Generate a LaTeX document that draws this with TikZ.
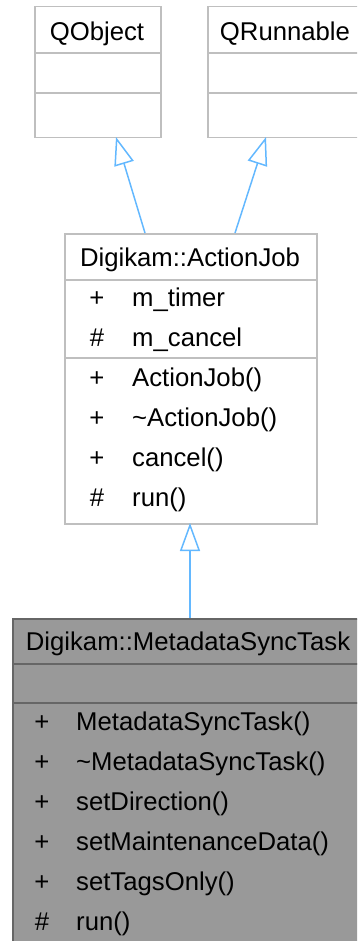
\documentclass[tikz,border=0pt]{standalone}
\usepackage{fontspec}
\setmainfont{Liberation Sans}
\usetikzlibrary{arrows.meta}
\definecolor{lgray}{HTML}{BFBFBF}
\definecolor{dgray}{HTML}{666666}
\definecolor{dfill}{HTML}{999999}
\definecolor{ablue}{HTML}{63B8FF}
\tikzset{
  lightbox/.style={draw=lgray, line width=1.5pt, fill=white, rectangle, inner sep=0pt, anchor=north west},
  darkbox/.style={draw=dgray, line width=1.5pt, fill=dfill, rectangle, inner sep=0pt, anchor=north west},
  lightline/.style={draw=lgray, line width=1.5pt},
  darkline/.style={draw=dgray, line width=1.5pt},
  txt/.style={inner sep=0pt, font=\fontsize{25.7}{30}\selectfont, text=black},
  inh/.style={draw=ablue, line width=1.5pt, -{Triangle[open, length=28pt, width=20pt]}}
}
\begin{document}
\begin{tikzpicture}[x=1pt,y=-1pt]
\useasboundingbox (0,0) rectangle (357,941);
\clip (0,0) rectangle (357,941);
% QObject
\node[lightbox, minimum width=126pt, minimum height=131pt] (qobj) at (34,6) {};
\draw[lightline] (34,53) -- (160,53);
\draw[lightline] (34,93) -- (160,93);
\node[txt, anchor=base] (qobjt) at (97,40.7) {QObject};
% QRunnable
\node[lightbox, minimum width=156pt, minimum height=131pt] (qrun) at (207,6) {};
\draw[lightline] (207,53) -- (363,53);
\draw[lightline] (207,93) -- (363,93);
\node[txt, anchor=base] (qrunt) at (285,40.7) {QRunnable};
% ActionJob
\node[lightbox, minimum width=252pt, minimum height=290pt] (aj) at (64,233) {};
\draw[lightline] (64,280) -- (316,280);
\draw[lightline] (64,358) -- (316,358);
\node[txt, anchor=base] (ajt) at (190,266) {Digikam::ActionJob};
\foreach \s/\t/\y [count=\i] in {+/m\_timer/306, \#/m\_cancel/346, +/ActionJob()/386, +/\textasciitilde ActionJob()/426, +/cancel()/466, \#/run()/506}{
  \node[txt, anchor=base] (ajs\i) at (97,\y) {\s};
  \node[txt, anchor=base west] (ajm\i) at (132,\y) {\t};
}
% MetadataSyncTask
\node[darkbox, minimum width=356pt, minimum height=340pt] (mst) at (12,618) {};
\draw[darkline] (12,664) -- (368,664);
\draw[darkline] (12,703) -- (368,703);
\node[txt, anchor=base] (mstt) at (188,650) {Digikam::MetadataSyncTask};
\foreach \s/\t/\y [count=\i] in {+/MetadataSyncTask()/730.5, +/\textasciitilde MetadataSyncTask()/770.5, +/setDirection()/810.5, +/setMaintenanceData()/850.5, +/setTagsOnly()/890.5, \#/run()/930.5}{
  \node[txt, anchor=base] (msts\i) at (42,\y) {\s};
  \node[txt, anchor=base west] (mstm\i) at (76,\y) {\t};
}
% connectors
\coordinate (e1s) at (145,233);
\coordinate (e1t) at (116,137);
\coordinate (e2s) at (235,233);
\coordinate (e2t) at (266,137);
\coordinate (e3s) at (190,618);
\coordinate (e3t) at (190,523);
\draw[inh] (e1s) -- (e1t);
\draw[inh] (e2s) -- (e2t);
\draw[inh] (e3s) -- (e3t);
\end{tikzpicture}
\end{document}
